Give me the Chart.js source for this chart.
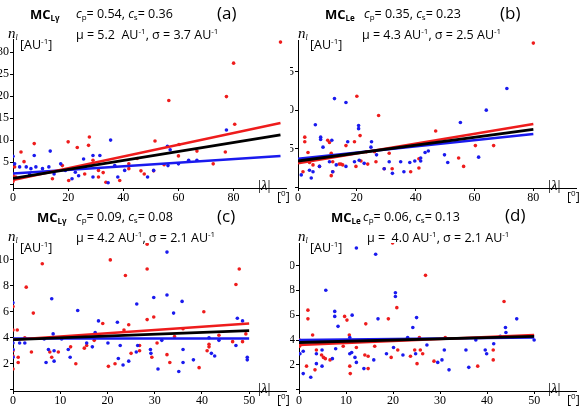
<!DOCTYPE html>
<html>
<head>
<meta charset="utf-8">
<script src="https://cdn.jsdelivr.net/npm/chart.js@4/dist/chart.umd.min.js"></script>
<style>
  body { margin: 0; background: #fff; }
  #wrap { position: relative; width: 581px; height: 406px; overflow: hidden; font-family: "Open Sans", "Liberation Sans", sans-serif; color: #000; }
  .pan { position: absolute; width: 290px; height: 203px; }
  .pan canvas { position: absolute; left: 0; top: 0; }
  .t { position: absolute; white-space: nowrap; font-size: 12.5px; line-height: 14px; }
  .b { font-weight: bold; font-size: 13px; }
  .lab { font-size: 17px; }
  .ax { font-family: "Liberation Serif", serif; font-size: 15px; }
  sub, sup { font-size: 8px; }
  sub { vertical-align: -2px; } sup { vertical-align: 5px; }
</style>
</head>
<body>
<div id="wrap"></div>
<script>
// panel (a) MC_Ly, full range
var redA = [[97,32.3],[80,27.5],[77.4,19.9],[56.5,19],[77,7.3],[80.4,13.6],[66.7,7.5],[60.2,9],[60,6.4],[51.5,9.8],
  [27.7,10.7],[27.4,8.8],[20,9.6],[23.3,8.3],[7.7,9.2],[2.9,7.3],[4,5.1],[0.6,3.9],[1,1.6],[14.3,1.2],[20.2,0.8],
  [26,2.3],[31,3.1],[33.7,0.4],[38.7,0.8],[42,3.5],[46.4,3],[47.6,2.3],[51,3],[54.8,4.4],[42,4.6],[29,5.4],
  [17.9,4.2],[72.6,4.6],[31,1.6],[32.7,2.6],[45,5.8],[0,2],[0,0.6]];
var blueA = [[0,6.3],[7.7,6.5],[13.5,7.5],[17.3,4.6],[25.6,5.7],[29,6.5],[31.5,6.5],[35.4,10],[29,1.6],[34.5,0.3],
  [40.5,3.1],[48.8,1.6],[51,3.1],[56.2,4.2],[60,4.6],[63.7,5.4],[66.7,5.4],[77.4,12.3],[56,8.6],[57,7.8],
  [0.6,4.6],[2.4,3.9],[4.8,3.9],[6.5,3.5],[8.3,3.9],[10.7,3.5],[13,3.9],[14.9,2.3],[19,3.1],[22.6,2.7],
  [23.8,1.9],[26.2,3.9],[21.4,1.2],[36.9,4.2],[38,1.6],[6,2.3]];
var fitA = { red: [[0,0.9],[97,13.9]], black: [[0,1.3],[97,11.2]], blue: [[0,2.4],[97,6.4]] };

// panel (b) MC_Le, full range
var redB = [[80,18.7],[27.4,9.3],[20,11.8],[46.8,7.3],[2.3,6.5],[2.3,5.9],[3.4,4.5],[10.1,6.1],[10.7,5.8],[11.3,4.4],
  [16.3,5.4],[19.2,5.9],[21.1,6.7],[60.3,5.4],[66.5,5.4],[54.6,3.8],[56.3,2.7],[31,4.4],[41.1,3.7],[41.1,2.5],
  [38.3,2],[26,4.6],[26.5,3.3],[23.3,4.6],[21.4,3.4],[15.2,2.9],[14.6,3],[14,3],[11.8,3.3],[11.8,2],[11.3,1.5],
  [7.3,2.7],[5.1,2.9],[3.9,3.2],[1.7,2],[32,2.4],[29.3,2.4],[19.7,2.7],[23.7,3]];
var blueB = [[71,12.8],[64,10],[55.2,8.4],[12.4,11.5],[16.3,11],[5.9,8.1],[7.7,6.5],[7.7,6.2],[8.5,5.2],[11.5,6.1],
  [16.9,5.9],[20.6,8],[20.6,7.6],[24.8,5.2],[25,5.9],[26.7,4.2],[34.9,3.3],[38,3.2],[39.7,3.4],[43.2,4.5],
  [44.3,4.7],[49.8,4.2],[50.9,3.2],[61.4,3.9],[41.7,3.4],[41.7,3.8],[32.1,1.8],[36,2],[29.3,2.4],[31,3.3],
  [22.5,3.1],[20.8,3.5],[19.2,3.3],[16.3,2.7],[13,2.9],[10.7,3.3],[5.1,2],[4.5,1.2],[3.9,2.2],[1.1,1.6],
  [7.3,2.7],[5.1,3.7],[11.8,2]];
var fitB = { red: [[0,3.1],[80,8.2]], black: [[0,3.4],[80,7.5]], blue: [[0,3.7],[80,6.9]] };

// panel (c) MC_Ly, |lambda| <= 50
var redC = [[28.4,11.2],[20.6,10],[6.2,9.7],[2.8,7.9],[23.8,8.8],[28.4,9.3],[47.9,9.3],[47.2,8.1],[4.3,5.9],[40.4,6],
  [28.4,5.4],[29.8,5.6],[19,5.1],[24.5,5],[0,6.4],[0,4.6],[0.9,4.6],[0,3],[0,2.6],[0,1.6],[1.1,2.1],[1.1,2.5],
  [2.5,4],[3.9,2.9],[7.8,2.9],[8.2,2.5],[9.6,2.9],[12.2,3.3],[13.3,2],[15.1,3.2],[15.6,3.4],[17.2,3.8],[20.2,1.8],
  [21.6,2],[23.5,4.6],[25,2.8],[26.8,3.4],[26.8,3],[29.4,2.5],[30.5,3.6],[32.6,2.7],[33.2,2.1],[34.2,4.1],[36,4.7],
  [39.4,1.7],[41.1,3],[41.5,3.5],[41.5,3.3],[43.6,4.2],[46.5,3.7],[48.6,3.7],[49.3,4.3]];
var blueC = [[32.6,10.6],[8.2,7],[32.6,7.3],[29.8,7.1],[26.2,6.6],[35.8,6.8],[34,5.9],[13.7,6.1],[0,6.7],[47.5,5.5],
  [48.6,5.3],[8.5,4.3],[18.1,5.3],[22.1,5.2],[17.4,4.4],[10.3,3.9],[1.4,3.6],[2.5,3.6],[6.6,3.9],[7.5,3.1],[8.7,3],
  [8.7,2.2],[7,2.1],[11.7,3.1],[12.1,2.5],[15.6,3.6],[16.8,3.3],[20.1,3.6],[22.3,2.4],[23.3,1.9],[22.7,3.4],
  [24.5,2.2],[26.1,2.9],[26.4,3.4],[29.1,3.1],[29.2,2.8],[30.7,1.6],[31.5,3.8],[35.1,1.4],[36,3.1],[36,2.1],
  [38.2,2.3],[41.5,4],[42,2.8],[42.7,2.6],[43.6,3.8],[47.2,3.4],[49.6,2.5],[49.6,2.3],[0,3.6],[0,3.1],[0,2.5]];
var fitC = { red: [[0,3.85],[50,5.1]], black: [[0,3.85],[50,4.55]], blue: [[0,3.95],[50,3.95]] };

// panel (d) MC_Le, |lambda| <= 50
var redD = [[19.9,11.8],[26.9,9.2],[20.8,6.6],[19,5.7],[14.2,5.3],[43.6,7.1],[1.9,6.4],[1.9,5.7],[2.9,4.4],[9.7,5.9],
  [10.2,5.6],[10.7,4.4],[10.8,1.9],[10.9,1.3],[1.6,1.9],[3.4,1.6],[3.7,3.2],[4.8,2.8],[5.2,2.6],[5.6,2.5],[6.6,2.4],
  [9.4,3.5],[12.2,3.4],[14,2.8],[14.7,2.7],[14.7,1.7],[16.1,3.5],[18.1,4],[19.6,2.6],[21,3.2],[23.7,2.7],[24.6,3.2],
  [25.1,2.1],[25.8,3.2],[26.3,2.9],[25.6,4.2],[28.7,2.3],[31.1,4.2],[38,1.9],[41.3,3.2],[41.3,2.4],[0.1,3.5],[0.1,4]];
var blueD = [[12.2,11.4],[16.3,10.9],[5.7,8],[20.5,7.8],[20.5,7.5],[16.8,5.7],[25,5.8],[24.2,5],[7.6,6.3],[7.6,5.9],
  [8.3,5.1],[11.3,6],[46.3,5.7],[43.9,5],[44,4.6],[42.8,4.3],[50,4],[0.9,3.1],[0.2,2.9],[0.9,1.3],[2.5,1],[3.7,2.1],
  [3.7,2.9],[4.9,3.2],[4.9,1.9],[7.1,2.5],[7.8,3.3],[10.8,4.2],[10.8,2.9],[11.2,3],[11.9,2.6],[12.2,2.2],[13.8,1.7],
  [15.9,2.4],[18.6,2.9],[20.1,3.4],[22.1,2.8],[23.1,4.2],[24.8,2.9],[27.2,3.6],[29.5,2.2],[30.4,2.4],[30.9,3.2],
  [31.9,1.6],[35.5,3.2],[36.1,1.8],[37.6,4],[39.6,3.2],[39.9,2.9],[41.4,3.7]];
var fitD = { red: [[0,3.6],[50,4.4]], black: [[0,3.8],[50,4.3]], blue: [[0,4.0],[50,4.2]] };

var RED = '#ee1c1c', BLUE = '#1a1aee';

function pts(arr) { return arr.map(function(p) { return { x: p[0], y: p[1] }; }); }

// keep only round ticks (drop the min/max bound ticks)
function roundTicks(step, last) {
    return function(s) {
        s.ticks = s.ticks.filter(function(t) {
            var r = t.value / step;
            return Math.abs(r - Math.round(r)) < 1e-6 && t.value <= last;
        });
    };
}

function makePanel(left, top, cfg) {
    var div = document.createElement('div');
    div.className = 'pan';
    div.style.left = left + 'px';
    div.style.top = top + 'px';
    var cv = document.createElement('canvas');
    cv.width = 290; cv.height = 203;
    div.appendChild(cv);
    document.getElementById('wrap').appendChild(div);

    function fitLine(p, col, w, ord) {
        return { type: 'line', data: pts(p), borderColor: col, borderWidth: w, pointRadius: 0,
                 fill: false, order: ord };
    }
    new Chart(cv, {
        type: 'scatter',
        data: {
            datasets: [
                { data: pts(cfg.red), backgroundColor: RED, borderWidth: 0, pointRadius: 1.8, order: 5 },
                { data: pts(cfg.blue), backgroundColor: BLUE, borderWidth: 0, pointRadius: 1.8, order: 4 },
                fitLine(cfg.fit.blue, BLUE, 2.5, 3),
                fitLine(cfg.fit.red, RED, 2.5, 2),
                fitLine(cfg.fit.black, '#000', 2.8, 1)
            ]
        },
        options: {
            responsive: false, animation: false, devicePixelRatio: 1,
            layout: { padding: { left: 0, right: cfg.padR, top: cfg.padT, bottom: 0 } },
            plugins: { legend: { display: false }, tooltip: { enabled: false } },
            scales: {
                x: {
                    type: 'linear', min: 0, max: cfg.xmax,
                    ticks: { stepSize: cfg.xstep, includeBounds: false, maxRotation: 0, autoSkip: false,
                             padding: 0, color: '#000', font: { family: 'Liberation Serif', size: 12 } },
                    afterBuildTicks: roundTicks(cfg.xstep, cfg.xlast),
                    grid: { drawOnChartArea: false, tickLength: 3, color: '#000' },
                    border: { color: '#000', width: 1 },
                    afterFit: function(s) { s.height = 15; }
                },
                y: {
                    min: cfg.ymin, max: cfg.ymax,
                    ticks: { stepSize: cfg.ystep, includeBounds: false, autoSkip: false, padding: 1, color: '#000',
                             font: { family: 'Liberation Serif', size: 12 },
                             callback: function(v) { return v <= 0 ? '' : v; } },
                    afterBuildTicks: roundTicks(cfg.ystep, cfg.ymax),
                    grid: { drawOnChartArea: false, tickLength: 3, color: '#000' },
                    border: { color: '#000', width: 1 },
                    afterFit: function(s) { s.width = cfg.yw; }
                }
            }
        }
    });
}

makePanel(0, 0, { red: redA, blue: blueA, fit: fitA, xmax: 99, xstep: 20, xlast: 80,
    ymin: -0.9, ymax: 33, ystep: 5, yw: 13, padR: 3, padT: 39 });
makePanel(290, 0, { red: redB, blue: blueB, fit: fitB, xmax: 94.5, xstep: 20, xlast: 80,
    ymin: -0.1, ymax: 19.1, ystep: 5, yw: 8, padR: 4, padT: 40 });
makePanel(0, 203, { red: redC, blue: blueC, fit: fitC, xmax: 57.8, xstep: 10, xlast: 50,
    ymin: -0.1, ymax: 11.3, ystep: 2, yw: 13, padR: 3, padT: 40 });
makePanel(290, 203, { red: redD, blue: blueD, fit: fitD, xmax: 58.9, xstep: 10, xlast: 50,
    ymin: -0.1, ymax: 11.8, ystep: 2, yw: 9, padR: 4, padT: 40 });

// text overlays
var texts = [
    // (a)
    [30, 7, 'b', 'MC<sub>Lγ</sub>'], [76, 7, '', '<i>c</i><sub>p</sub>= 0.54, <i>c</i><sub>s</sub>= 0.36'],
    [76, 24, '', 'μ = 5.2&nbsp; AU<sup>-1</sup>, σ = 3.7 AU<sup>-1</sup>'], [217, 6, 'lab', '(a)'],
    // (b)
    [325, 7, 'b', 'MC<sub>Le</sub>'], [364, 7, '', '<i>c</i><sub>p</sub>= 0.35, <i>c</i><sub>s</sub>= 0.23'],
    [362, 24, '', 'μ = 4.3 AU<sup>-1</sup>, σ = 2.5 AU<sup>-1</sup>'], [500, 6, 'lab', '(b)'],
    // (c)
    [37, 210, 'b', 'MC<sub>Lγ</sub>'], [76, 210, '', '<i>c</i><sub>p</sub>= 0.09, <i>c</i><sub>s</sub>= 0.08'],
    [76, 227, '', 'μ = 4.2 AU<sup>-1</sup>, σ = 2.1 AU<sup>-1</sup>'], [217, 209, 'lab', '(c)'],
    // (d)
    [331, 210, 'b', 'MC<sub>Le</sub>'], [363, 210, '', '<i>c</i><sub>p</sub>= 0.06, <i>c</i><sub>s</sub>= 0.13'],
    [367, 227, '', 'μ =&nbsp; 4.0 AU<sup>-1</sup>, σ = 2.1 AU<sup>-1</sup>'], [505, 208, 'lab', '(d)']
];
[[0, 0], [290, 0], [0, 203], [290, 203]].forEach(function(o, i) {
    var lx = i % 2 ? 548 - 290 : 258;
    texts.push([o[0] + 8, o[1] + 26, 'ax', '<i>n<sub>l</sub></i>']);
    texts.push([o[0] + 20, o[1] + 34, '', '[AU<sup>-1</sup>]']);
    texts.push([o[0] + lx, o[1] + 178, 'ax', '|<i>λ</i>|']);
    texts.push([o[0] + lx + 19, o[1] + 186, '', '[<sup>0</sup>]']);
});
texts.forEach(function(t) {
    var s = document.createElement('span');
    s.className = 't ' + t[2];
    s.style.left = t[0] + 'px';
    s.style.top = t[1] + 'px';
    s.innerHTML = t[3];
    document.getElementById('wrap').appendChild(s);
});
</script>
</body>
</html>
